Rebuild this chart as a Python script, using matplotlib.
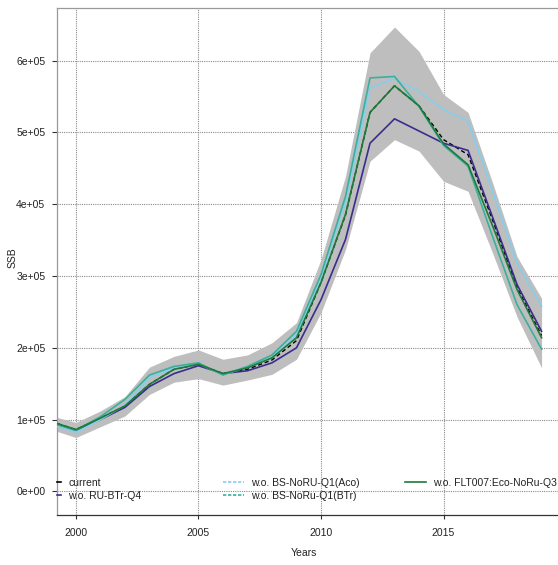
import matplotlib
matplotlib.use("Agg")
import matplotlib.pyplot as plt
from matplotlib.lines import Line2D
import numpy as np

plt.rcParams['font.family'] = ['Liberation Sans', 'DejaVu Sans']

years = list(range(1999, 2020))

# SSB estimates (tonnes)
current = [0.97, 0.86, 1.02, 1.19, 1.49, 1.70, 1.77, 1.64, 1.70, 1.83, 2.10,
           2.91, 3.85, 5.28, 5.65, 5.37, 4.90, 4.69, 3.78, 2.84, 2.17]
wo_ru_btr_q4 = [0.96, 0.85, 1.00, 1.17, 1.46, 1.64, 1.75, 1.64, 1.68, 1.79, 2.00,
                2.67, 3.51, 4.85, 5.19, 5.02, 4.85, 4.75, 3.82, 2.88, 2.23]
wo_bs_noru_aco = [0.93, 0.82, 1.00, 1.20, 1.58, 1.72, 1.78, 1.62, 1.74, 1.87, 2.18,
                  2.98, 4.02, 5.62, 5.75, 5.57, 5.32, 5.16, 4.18, 3.18, 2.58]
wo_bs_noru_btr = [0.95, 0.85, 1.04, 1.28, 1.62, 1.74, 1.79, 1.62, 1.74, 1.90, 2.23,
                  3.02, 4.11, 5.76, 5.78, 5.36, 4.82, 4.53, 3.55, 2.60, 1.98]
wo_flt007 = [0.97, 0.86, 1.02, 1.19, 1.49, 1.70, 1.77, 1.64, 1.72, 1.86, 2.14,
             2.91, 3.86, 5.28, 5.65, 5.37, 4.84, 4.55, 3.70, 2.81, 2.14]

# confidence band of the current assessment
ci_upper = [1.05, 0.96, 1.12, 1.32, 1.73, 1.88, 1.97, 1.84, 1.90, 2.07, 2.35,
            3.23, 4.39, 6.11, 6.47, 6.13, 5.53, 5.28, 4.30, 3.27, 2.69]
ci_lower = [0.86, 0.75, 0.90, 1.05, 1.35, 1.52, 1.57, 1.48, 1.55, 1.63, 1.84,
            2.49, 3.37, 4.60, 4.90, 4.74, 4.32, 4.18, 3.32, 2.43, 1.72]

labels = ["current", "w.o. RU-BTr-Q4", "w.o. BS-NoRU-Q1(Aco)",
          "w.o. BS-NoRu-Q1(BTr)", "w.o. FLT007:Eco-NoRu-Q3"]
colors = ["#000000", "#3A2D8F", "#87CEEB", "#3AB09C", "#1E7B3A"]

x_ticks = [2000, 2005, 2010, 2015]
y_ticks = [0, 1e5, 2e5, 3e5, 4e5, 5e5, 6e5]
y_ticklabels = ["0e+00", "1e+05", "2e+05", "3e+05", "4e+05", "5e+05", "6e+05"]

W, H = 558, 565
FS = 7.5
fig = plt.figure(figsize=(W / 100, H / 100), dpi=100)
ax = fig.add_axes([57.3 / W, (H - 515) / H, 1 - 57.3 / W, (515 - 8.3) / H])

scale = 1e5
yrs = np.array(years)
ax.fill_between(yrs, np.array(ci_lower) * scale, np.array(ci_upper) * scale,
                color="#BEBEBE", lw=0, zorder=1)

series = [current, wo_ru_btr_q4, wo_bs_noru_aco, wo_bs_noru_btr, wo_flt007]
styles = [(0, (3, 2)), "-", "-", "-", "-"]
widths = [1.0, 1.2, 1.2, 1.2, 1.2]
for z, (vals, col, ls, lw) in enumerate(zip(series, colors, styles, widths)):
    ax.plot(yrs, np.array(vals) * scale, color=col, lw=lw, ls=ls, zorder=3 + z)

ax.set_xlim(1999.24, 2019.67)
ax.set_ylim(-0.33e5, 6.73e5)

ax.set_xticks(x_ticks)
ax.set_xticklabels([str(v) for v in x_ticks])
ax.set_yticks(y_ticks)
ax.set_yticklabels(y_ticklabels)

ax.grid(True, color="#8A8A8A", ls=(0, (1, 1)), lw=0.8, zorder=0)
ax.set_axisbelow(True)

ax.tick_params(axis="y", length=3.6, width=0.8, pad=5.0, labelsize=FS,
               colors="#333333", labelcolor="#222222")
ax.tick_params(axis="x", length=3.0, width=0.8, pad=6.3, labelsize=FS,
               colors="#333333", labelcolor="#222222")

ax.spines["right"].set_visible(False)
ax.spines["top"].set_color("#999999")
ax.spines["left"].set_color("#999999")
ax.spines["bottom"].set_color("#333333")
for s in ax.spines.values():
    s.set_linewidth(0.9)

fig.text(13 / W, 1 - 258 / H, "SSB", rotation=90, ha="center", va="center",
         fontsize=FS, color="#222222")
fig.text(304 / W, 1 - 553 / H, "Years", ha="center", va="center",
         fontsize=FS, color="#222222")


def fig_pt(px, py):
    return (px / W, 1 - py / H)


def make_handle(col, dashed):
    return Line2D([], [], color=col, lw=1.2,
                  ls=(0, (2, 1)) if dashed else "-")


leg_kw = dict(frameon=False, fontsize=FS, borderpad=0, borderaxespad=0,
              labelspacing=0.3, handletextpad=0.7, loc="upper left",
              bbox_transform=fig.transFigure, labelcolor="#222222")

leg1 = ax.legend([make_handle(colors[0], False), make_handle(colors[1], False)],
                 labels[0:2], handlelength=0.4,
                 bbox_to_anchor=fig_pt(57, 478), **leg_kw)
ax.add_artist(leg1)
leg2 = ax.legend([make_handle(colors[2], True), make_handle(colors[3], True)],
                 labels[2:4], handlelength=2.0,
                 bbox_to_anchor=fig_pt(223, 478), **leg_kw)
ax.add_artist(leg2)
leg3 = ax.legend([make_handle(colors[4], False)], labels[4:5], handlelength=2.0,
                 bbox_to_anchor=fig_pt(405, 478), **leg_kw)

fig.savefig("out.png", dpi=100)
